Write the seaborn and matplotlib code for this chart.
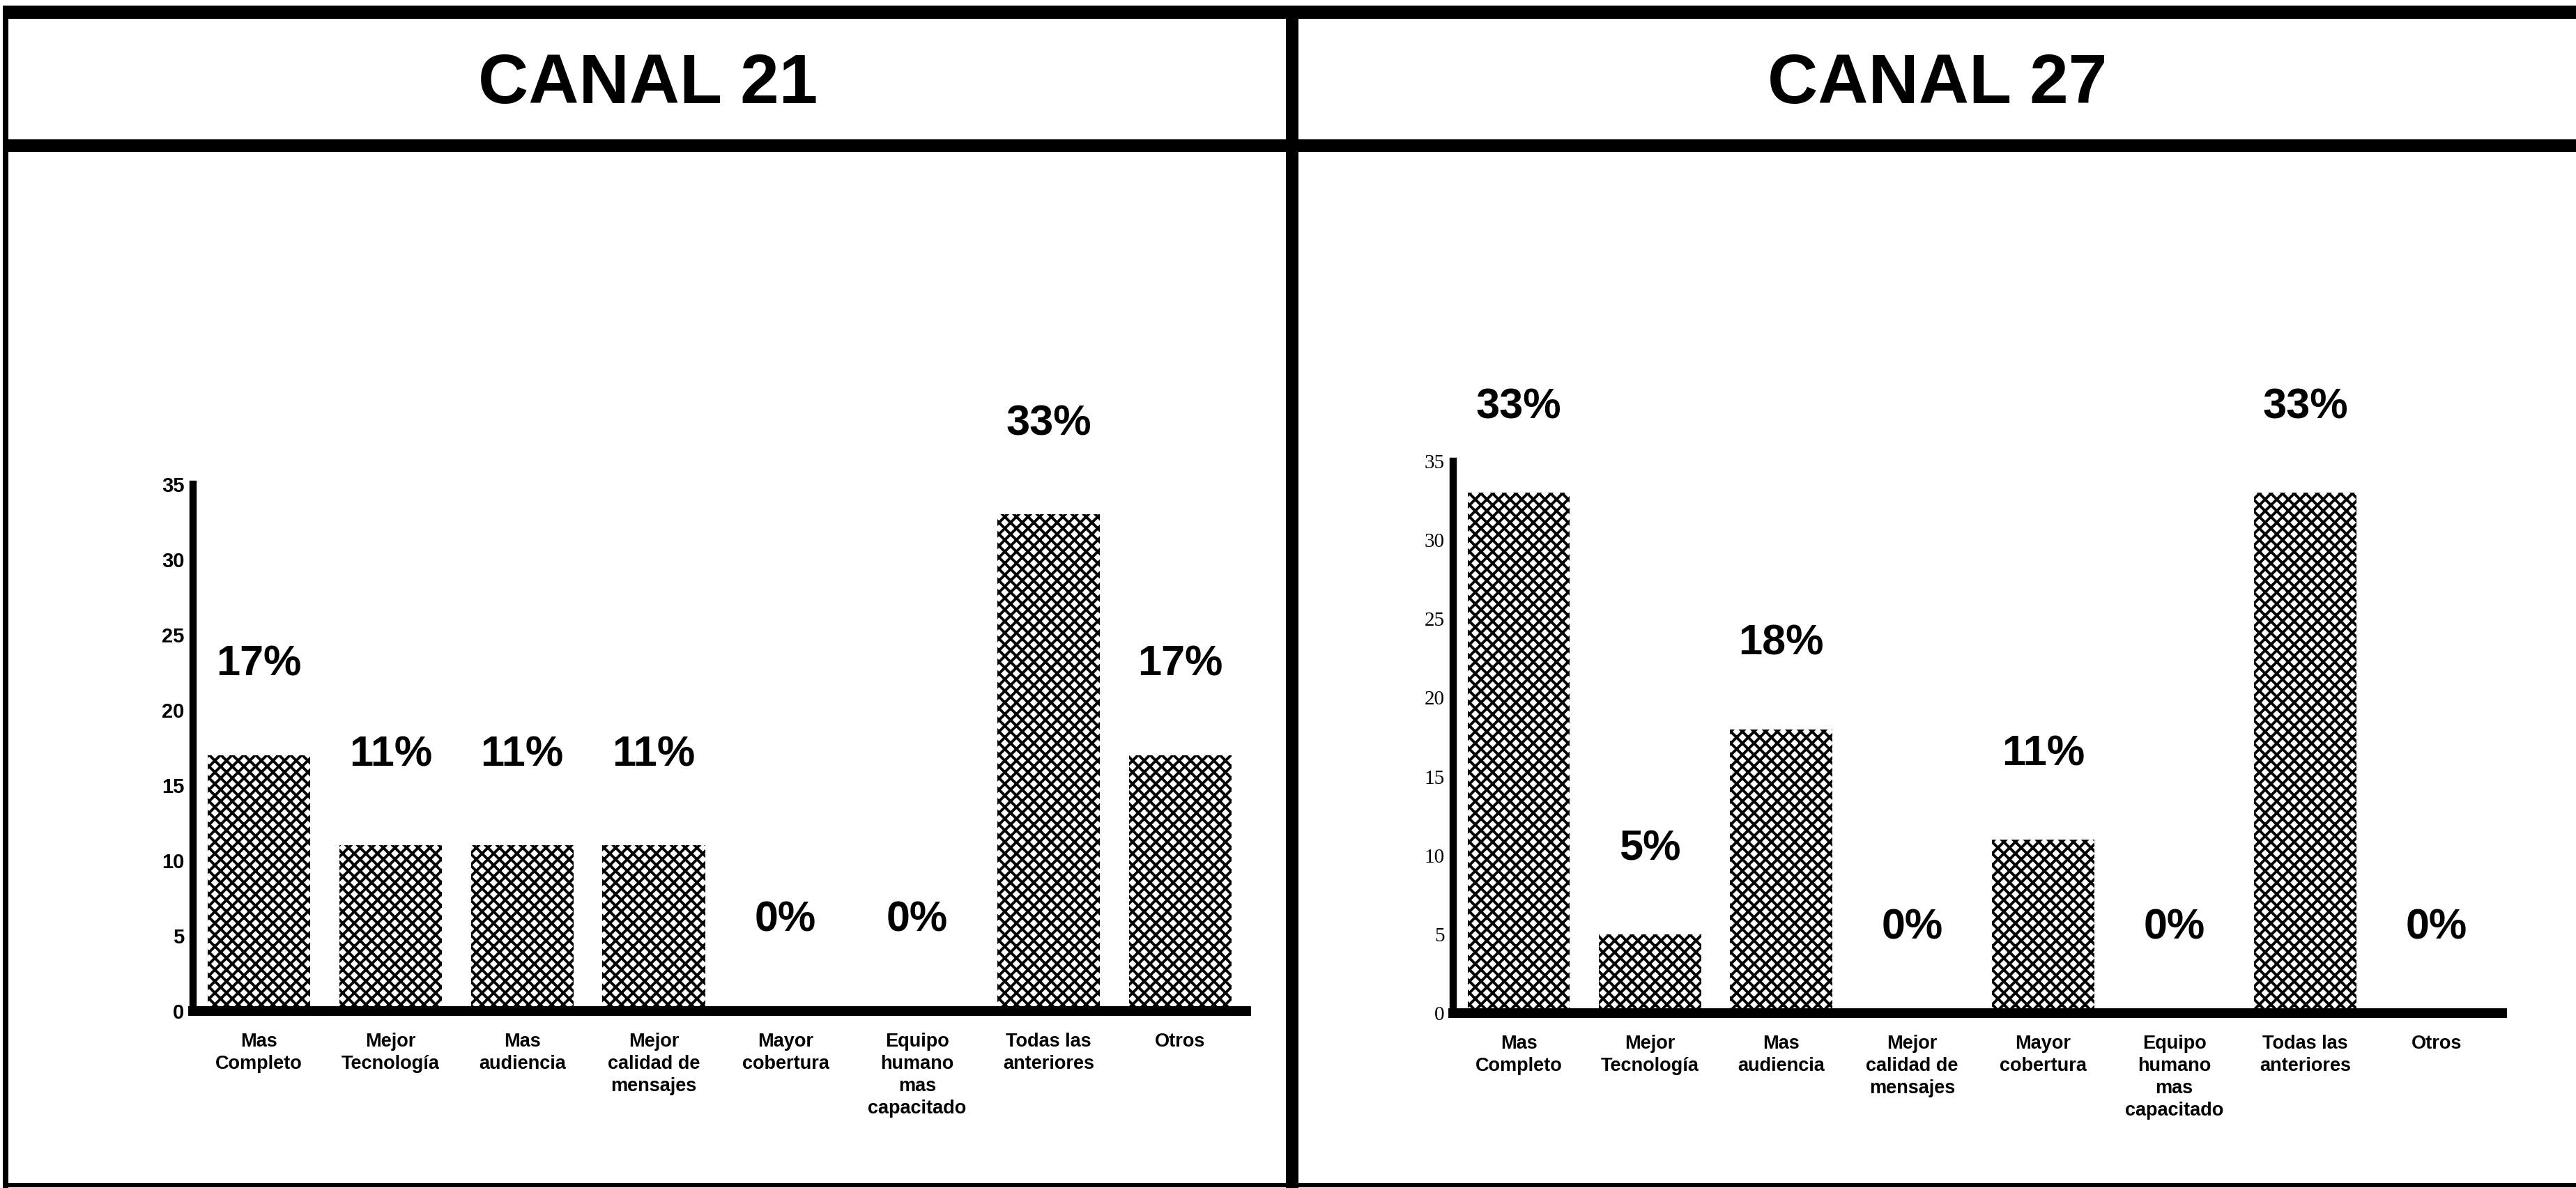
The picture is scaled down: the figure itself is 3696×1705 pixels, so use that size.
import numpy as np
import matplotlib
matplotlib.use("Agg")
import matplotlib.pyplot as plt
import seaborn as sns
from matplotlib import font_manager
from matplotlib.lines import Line2D

# datos
categorias = ["Mas\nCompleto", "Mejor\nTecnología", "Mas\naudiencia",
              "Mejor\ncalidad de\nmensajes", "Mayor\ncobertura",
              "Equipo\nhumano\nmas\ncapacitado", "Todas las\nanteriores", "Otros"]
canal_21 = [17, 11, 11, 11, 0, 0, 33, 17]
canal_27 = [33, 5, 18, 0, 11, 0, 33, 0]
titulos = ["CANAL 21", "CANAL 27"]
yticks = [0, 5, 10, 15, 20, 25, 30, 35]

sns.set_style("white")
plt.rcParams['font.family'] = ['Liberation Sans', 'DejaVu Sans']
plt.rcParams['hatch.linewidth'] = 2.8
plt.rcParams['text.color'] = 'black'
plt.rcParams['xtick.color'] = 'black'
plt.rcParams['ytick.color'] = 'black'
plt.rcParams['axes.labelcolor'] = 'black'

names = {f.name for f in font_manager.fontManager.ttflist}
narrow = 'Liberation Sans Narrow' if 'Liberation Sans Narrow' in names else 'Liberation Sans'

W, H = 3696, 1705
fig = plt.figure(figsize=(W / 100, H / 100), dpi=100)


def px_rect(x0, x1, y_top, y_bottom):
    return [x0 / W, 1 - y_bottom / H, (x1 - x0) / W, (y_bottom - y_top) / H]


def draw_panel(ax, values, tick_family, tick_weight, offset):
    sns.barplot(x=categorias, y=values, ax=ax, color='white', saturation=1,
                edgecolor='black', linewidth=0, hatch='xx', width=0.78)
    ax.set_xlim(-0.5, 7.5)
    ax.set_ylim(0, 35)
    ax.set_yticks(yticks)
    ax.set_xlabel('')
    ax.set_ylabel('')
    for s in ['top', 'right']:
        ax.spines[s].set_visible(False)
    ax.spines['left'].set_linewidth(7.5)
    ax.spines['bottom'].set_linewidth(10)
    ax.spines['left'].set_color('black')
    ax.spines['bottom'].set_color('black')
    ax.set_xticks(np.arange(0.5, 8, 1), minor=True)
    ax.tick_params(axis='x', which='major', length=0, pad=22)
    ax.tick_params(axis='x', which='minor', direction='in', length=9, width=5, color='black')
    ax.tick_params(axis='y', direction='in', length=7, width=4, color='black', pad=9)
    for lab in ax.get_xticklabels():
        lab.set_fontsize(19.5)
        lab.set_fontweight('bold')
        lab.set_linespacing(1.3)
        lab.set_color('black')
    for lab in ax.get_yticklabels():
        lab.set_fontsize(21)
        lab.set_family(tick_family)
        lab.set_fontweight(tick_weight)
        lab.set_color('black')
    for i, v in enumerate(values):
        ax.text(i, v + offset, f"{v}%", ha='center', va='center',
                fontsize=44, fontweight='bold', color='black')


ax1 = fig.add_axes(px_rect(277, 1788, 695, 1451))
draw_panel(ax1, canal_21, narrow, 'bold', 6)
ax2 = fig.add_axes(px_rect(2085, 3590, 662, 1454))
draw_panel(ax2, canal_27, 'Liberation Serif', 'normal', 5.4)

# titulos de cada columna
fig.text(930 / W, 1 - 122 / H, titulos[0], ha='center', va='center',
         fontsize=72, fontweight='bold', color='black')
fig.text(2780 / W, 1 - 122 / H, titulos[1], ha='center', va='center',
         fontsize=72, fontweight='bold', color='black')


def hline(y, x0, x1, lw_px):
    fig.add_artist(Line2D([x0 / W, x1 / W], [1 - y / H, 1 - y / H],
                          transform=fig.transFigure, color='black',
                          linewidth=lw_px * 0.72, solid_capstyle='butt'))


def vline(x, y0, y1, lw_px):
    fig.add_artist(Line2D([x / W, x / W], [1 - y0 / H, 1 - y1 / H],
                          transform=fig.transFigure, color='black',
                          linewidth=lw_px * 0.72, solid_capstyle='butt'))


# marco de la tabla
hline(17, 6, W, 19)
hline(209, 6, W, 18)
hline(1701, 6, W, 6)
vline(8, 8, H, 8)
vline(1854, 8, H, 18)

fig.savefig("out.png", dpi=100, facecolor='white')
